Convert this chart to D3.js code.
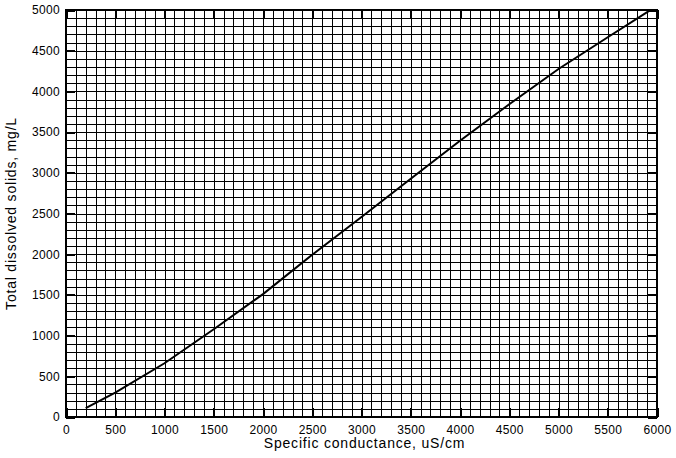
<!DOCTYPE html>
<html><head><meta charset="utf-8">
<script src="https://cdn.jsdelivr.net/npm/d3@7"></script>
<style>body{margin:0;background:#fff}svg{display:block}</style>
</head><body>
<svg id="c" width="676" height="458"></svg>
<script>
const conductance = [200, 500, 1000, 1500, 2000, 2500, 3000, 3500, 4000, 4500, 5000, 5500, 5920];
const tds =         [110, 299, 660, 1078, 1510, 1994, 2457, 2927, 3393, 3843, 4275, 4665, 4990];
const xTicks = [0, 500, 1000, 1500, 2000, 2500, 3000, 3500, 4000, 4500, 5000, 5500, 6000];
const yTicks = [0, 500, 1000, 1500, 2000, 2500, 3000, 3500, 4000, 4500, 5000];
const xGrid = d3.range(0, 6001, 100);
const yGrid = d3.range(0, 5001, 100);
const xTitle = "Specific conductance, uS/cm";
const yTitle = "Total dissolved solids, mg/L";

const svg = d3.select("#c");
const L = 66, R = 657, T = 10, B = 417;
const x = d3.scaleLinear().domain([0, 6000]).range([L, R]);
const y = d3.scaleLinear().domain([0, 5000]).range([B, T]);
const font = "Arial, 'Liberation Sans', sans-serif";

// grid
const g = svg.append("g").attr("stroke", "#000").attr("stroke-width", 1).attr("shape-rendering", "crispEdges");
g.selectAll(".vx").data(xGrid).join("line")
  .attr("x1", d => Math.round(x(d)) + 0.5).attr("x2", d => Math.round(x(d)) + 0.5)
  .attr("y1", T).attr("y2", B);
g.selectAll(".hy").data(yGrid).join("line")
  .attr("y1", d => Math.round(y(d)) + 0.5).attr("y2", d => Math.round(y(d)) + 0.5)
  .attr("x1", L).attr("x2", R);

// inward major ticks on all sides
function tickStyle(sel) {
  sel.select(".domain").remove();
  sel.selectAll(".tick line").attr("stroke", "#000").attr("stroke-width", 2).attr("shape-rendering", "crispEdges");
  sel.selectAll(".tick text").remove();
}
svg.append("g").attr("transform", `translate(0,${B})`).call(d3.axisBottom(x).tickValues(xTicks).tickSize(-9)).call(tickStyle);
svg.append("g").attr("transform", `translate(0,${T})`).call(d3.axisTop(x).tickValues(xTicks).tickSize(-9)).call(tickStyle);
svg.append("g").attr("transform", `translate(${L},0)`).call(d3.axisLeft(y).tickValues(yTicks).tickSize(-9)).call(tickStyle);
svg.append("g").attr("transform", `translate(${R},0)`).call(d3.axisRight(y).tickValues(yTicks).tickSize(-9)).call(tickStyle);

// labels
const xa = svg.append("g").attr("transform", `translate(0,${B})`)
  .call(d3.axisBottom(x).tickValues(xTicks).tickSize(0).tickPadding(8).tickFormat(d3.format("d")));
xa.select(".domain").remove();
xa.selectAll("text").attr("font-family", font).attr("font-size", 12).attr("fill", "#000").attr("letter-spacing", 0.3);
const ya = svg.append("g").attr("transform", `translate(${L},0)`)
  .call(d3.axisLeft(y).tickValues(yTicks).tickSize(0).tickPadding(6).tickFormat(d3.format("d")));
ya.select(".domain").remove();
ya.selectAll("text").attr("font-family", font).attr("font-size", 12).attr("fill", "#000").attr("letter-spacing", 0.3);

// frame
svg.append("rect").attr("x", L).attr("y", T).attr("width", R - L).attr("height", B - T)
  .attr("fill", "none").attr("stroke", "#000").attr("stroke-width", 2).attr("shape-rendering", "crispEdges");

// line
const pts = conductance.map((c, i) => [c, tds[i]]);
svg.append("path").datum(pts)
  .attr("fill", "none").attr("stroke", "#000").attr("stroke-width", 2)
  .attr("d", d3.line().x(d => x(d[0])).y(d => y(d[1])));

// titles
svg.append("text").attr("x", (L + R) / 2 + 3).attr("y", 448).attr("text-anchor", "middle")
  .attr("font-family", font).attr("font-size", 14).attr("letter-spacing", 0.8).text(xTitle);
svg.append("text").attr("transform", `translate(16,${(T + B) / 2}) rotate(-90)`).attr("text-anchor", "middle")
  .attr("font-family", font).attr("font-size", 14).attr("letter-spacing", 0.8).text(yTitle);
</script>
</body></html>
